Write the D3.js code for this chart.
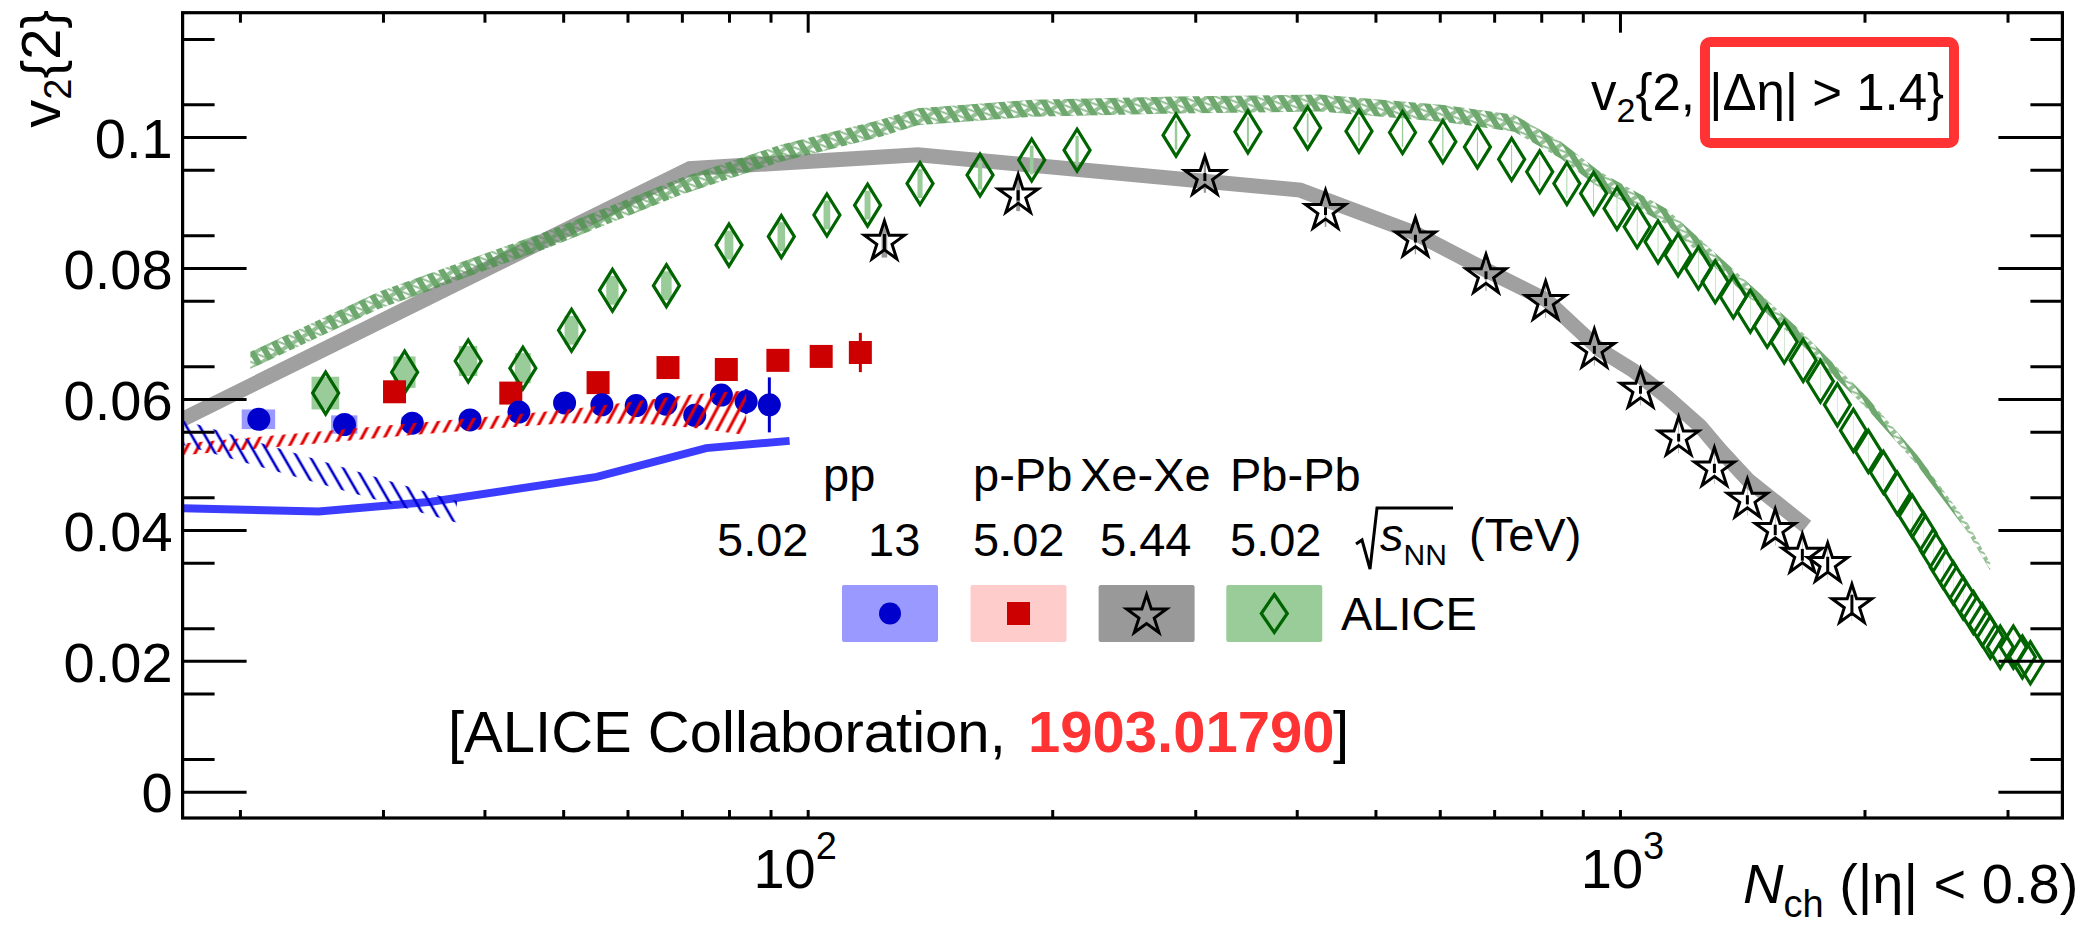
<!DOCTYPE html>
<html>
<head>
<meta charset="utf-8">
<script src="https://cdn.jsdelivr.net/npm/d3@7"></script>
<style>
  html, body { margin: 0; padding: 0; background: #ffffff; }
  svg { display: block; font-family: "Liberation Sans", Arial, Helvetica, sans-serif; }
</style>
</head>
<body>
<svg id="chart" width="2084" height="925"></svg>
<script>
// ---------------------------------------------------------------
// ALICE v2{2, |Δη| > 1.4} versus Nch (|η| < 0.8) for pp, p-Pb,
// Xe-Xe and Pb-Pb collisions, with model curves.
// ---------------------------------------------------------------

// pp, 13 TeV
const ppNch  = [21.1, 26.9, 32.6, 38.4, 44.1, 50.2, 55.8, 61.5, 66.9, 72.6, 78.3, 84.0, 89.7];
const ppV2   = [0.0569, 0.0561, 0.0563, 0.0568, 0.0580, 0.0594, 0.0591, 0.0590, 0.0592, 0.0575, 0.0606, 0.0596, 0.0591];
const ppStat = [0.0006, 0.0006, 0.0006, 0.0007, 0.0007, 0.0008, 0.0009, 0.0010, 0.0011, 0.0012, 0.0014, 0.0019, 0.0042];
const ppSyst = [0.0015, 0.0014, 0.0010, 0.0010, 0.0010, 0.0010, 0.0010, 0.0010, 0.0010, 0.0010, 0.0010, 0.0010, 0.0010];

// p-Pb, 5.02 TeV
const pPbNch  = [31.0, 43.1, 55.2, 67.3, 79.4, 91.9, 103.9, 116.1];
const pPbV2   = [0.0611, 0.0609, 0.0625, 0.0648, 0.0645, 0.0659, 0.0665, 0.0671];
const pPbStat = [0.0005, 0.0005, 0.0006, 0.0007, 0.0008, 0.0010, 0.0013, 0.0030];
const pPbSyst = [0.0010, 0.0010, 0.0010, 0.0010, 0.0010, 0.0010, 0.0010, 0.0010];

// Xe-Xe, 5.44 TeV
const xeNch  = [124.3, 181.6, 308.3, 434, 560, 684, 810, 930, 1060, 1181, 1307, 1435, 1553, 1677, 1802, 1930];
const xeV2   = [0.0840, 0.0911, 0.0939, 0.0887, 0.0845, 0.0789, 0.0748, 0.0675, 0.0614, 0.0541, 0.0494, 0.0446, 0.0400, 0.0362, 0.0348, 0.0285];
const xeStat = [0.0012, 0.0008, 0.0006, 0.0006, 0.0006, 0.0006, 0.0006, 0.0006, 0.0006, 0.0006, 0.0007, 0.0007, 0.0008, 0.0009, 0.0011, 0.0016];
const xeSyst = [0.0024, 0.0024, 0.0024, 0.0024, 0.0024, 0.0024, 0.0024, 0.0024, 0.0024, 0.0024, 0.0024, 0.0024, 0.0024, 0.0024, 0.0024, 0.0024];

// Pb-Pb, 5.02 TeV
const pbNch = [25.5, 31.9, 38.2, 44.6, 51.2, 57.5, 67.0, 80.0, 92.8, 105.6, 118.5, 137.5, 163, 188.7, 214.6,
               284.1, 348.3, 412.6, 477.2, 539.9, 605.3, 667.6, 735.6, 796.5, 860.3, 928, 991.6, 1050, 1114,
               1179, 1249, 1310, 1379, 1447, 1518, 1593, 1681, 1765, 1852, 1938, 2022, 2110, 2195, 2290,
               2362, 2430, 2500, 2572, 2646, 2723, 2793, 2857, 2939, 3050, 3129, 3201];
const pbV2  = [0.0609, 0.0641, 0.0658, 0.0647, 0.0705, 0.0766, 0.0773, 0.0835, 0.0848, 0.0881, 0.0896, 0.0929, 0.0942, 0.0965, 0.0980,
               0.1003, 0.1008, 0.1014, 0.1009, 0.1007, 0.0993, 0.0985, 0.0966, 0.0947, 0.0929, 0.0914, 0.0891, 0.0863, 0.0840,
               0.0820, 0.0800, 0.0779, 0.0756, 0.0734, 0.0711, 0.0687, 0.0659, 0.0627, 0.0591, 0.0552, 0.0520, 0.0488, 0.0456, 0.0421,
               0.0395, 0.0369, 0.0343, 0.0319, 0.0296, 0.0274, 0.0255, 0.0236, 0.0221, 0.0221, 0.0206, 0.0197];
const pbSyst = [0.0025, 0.0024, 0.0023, 0.0023, 0.0022, 0.0022, 0.0022, 0.0022, 0.0022, 0.0022, 0.0022, 0.0022, 0.0022, 0.0022, 0.0022,
                0.0022, 0.0022, 0.0022, 0.0022, 0.0022, 0.0022, 0.0022, 0.0022, 0.0022, 0.0022, 0.0022, 0.0022, 0.0022, 0.0022,
                0.0022, 0.0022, 0.0022, 0.0022, 0.0022, 0.0022, 0.0022, 0.0022, 0.0022, 0.0022, 0.0022, 0.0022, 0.0022, 0.0022, 0.0022,
                0.0022, 0.0022, 0.0022, 0.0022, 0.0022, 0.0022, 0.0022, 0.0022, 0.0022, 0.0022, 0.0022, 0.0022];

// Model: Pb-Pb hatched band
const modelPbNch  = [20.6, 29.7, 47.7, 69.6, 92.4, 122.7, 136.6, 189, 284, 427, 607, 741, 846, 945, 1142, 1379, 1667, 2014, 2321, 2674, 2857];
const modelPbLow  = [0.0646, 0.0738, 0.0830, 0.0911, 0.0962, 0.1000, 0.1018, 0.1031, 0.1036, 0.1039, 0.1023, 0.1008, 0.0967, 0.0921, 0.0866, 0.0776, 0.0685, 0.0585, 0.0499, 0.0398, 0.0338];
const modelPbHigh = [0.0672, 0.0764, 0.0856, 0.0937, 0.0988, 0.1026, 0.1044, 0.1057, 0.1062, 0.1065, 0.1049, 0.1034, 0.0993, 0.0947, 0.0890, 0.0798, 0.0705, 0.0603, 0.0515, 0.0412, 0.0350];

// Model: Xe-Xe curve
const modelXeNch = [17, 71.6, 136.7, 404, 560, 684, 812, 945, 1037, 1143, 1256, 1329, 1438, 1697];
const modelXeV2  = [0.0569, 0.0952, 0.0973, 0.0919, 0.0853, 0.0797, 0.0751, 0.0675, 0.0644, 0.0603, 0.0558, 0.0522, 0.0476, 0.0405];

// Model: p-Pb hatched band
const modelPPbNch  = [17, 32.6, 50, 63, 72, 84];
const modelPPbLow  = [0.0514, 0.0545, 0.0563, 0.0562, 0.0556, 0.0545];
const modelPPbHigh = [0.0532, 0.0563, 0.0583, 0.0598, 0.0607, 0.0613];

// Model: pp hatched band
const modelPpBandNch  = [17, 37];
const modelPpBandLow  = [0.0530, 0.0411];
const modelPpBandHigh = [0.0568, 0.0444];

// Model: pp curve
const modelPpNch = [17, 25, 34.4, 55, 75, 95];
const modelPpV2  = [0.0433, 0.0428, 0.0443, 0.0481, 0.0525, 0.0536];

// Axis ticks
const yMajorTicks = [0, 0.02, 0.04, 0.06, 0.08, 0.1];
const yTickLabels = ["0", "0.02", "0.04", "0.06", "0.08", "0.1"];
const xMajorTicks = [100, 1000];
const xTickLabels = [["10", "2"], ["10", "3"]];
const xMinorTicks = [20, 30, 40, 50, 60, 70, 80, 90, 200, 300, 400, 500, 600, 700, 800, 900, 2000, 3000];

// Legend
const systems  = ["pp", "p-Pb", "Xe-Xe", "Pb-Pb"];
const energies = ["5.02", "13", "5.02", "5.44", "5.02"];

// ---------------------------------------------------------------
const svg = d3.select("#chart");
const frame = { left: 182.6, right: 2062.4, top: 12.7, bottom: 818 };

const x = d3.scaleLog().domain([17, 3505]).range([frame.left, frame.right]);
const y = d3.scaleLinear().domain([-0.0040, 0.119]).range([frame.bottom, frame.top]);

const zip2 = (a, b) => a.map((d, i) => [d, b[i]]);
const zip3 = (a, b, c) => a.map((d, i) => [d, b[i], c[i]]);

const defs = svg.append("defs");
defs.append("clipPath").attr("id", "plotClip")
  .append("rect")
  .attr("x", frame.left).attr("y", frame.top)
  .attr("width", frame.right - frame.left).attr("height", frame.bottom - frame.top);

function hatch(id, color, spacing, width, angle) {
  const p = defs.append("pattern").attr("id", id)
    .attr("patternUnits", "userSpaceOnUse")
    .attr("width", spacing).attr("height", spacing)
    .attr("patternTransform", `rotate(${angle})`);
  p.append("line")
    .attr("x1", spacing / 2).attr("y1", 0)
    .attr("x2", spacing / 2).attr("y2", spacing)
    .attr("stroke", color).attr("stroke-width", width);
}
hatch("hatchRed", "#e30000", 10, 3, 28);
hatch("hatchBlue", "#0000cc", 11.5, 2.6, -30);

// mottled green pattern for the Pb-Pb model band
const gp = defs.append("pattern").attr("id", "hatchGreen")
  .attr("patternUnits", "userSpaceOnUse")
  .attr("width", 12).attr("height", 12)
  .attr("patternTransform", "rotate(-32)");
gp.append("rect").attr("x", 0).attr("y", 0).attr("width", 6).attr("height", 12)
  .attr("fill", "rgb(74,146,74)").attr("fill-opacity", 0.8);
gp.append("rect").attr("x", 6).attr("y", 0).attr("width", 6).attr("height", 4)
  .attr("fill", "rgb(74,146,74)").attr("fill-opacity", 0.58);
gp.append("line").attr("x1", 6).attr("y1", 4).attr("x2", 12).attr("y2", 12)
  .attr("stroke", "rgb(74,146,74)").attr("stroke-opacity", 0.62).attr("stroke-width", 2);

const plot = svg.append("g").attr("clip-path", "url(#plotClip)");

const lineGen = d3.line().x(d => x(d[0])).y(d => y(d[1]));
const areaGen = d3.area().x(d => x(d[0])).y0(d => y(d[1])).y1(d => y(d[2]));

// Xe-Xe model curve
plot.append("path")
  .datum(zip2(modelXeNch, modelXeV2))
  .attr("d", lineGen)
  .attr("fill", "none").attr("stroke", "rgb(160,160,160)")
  .attr("stroke-width", 15).attr("stroke-linejoin", "miter");

// Pb-Pb model band
plot.append("path")
  .datum(zip3(modelPbNch, modelPbLow, modelPbHigh))
  .attr("d", areaGen)
  .attr("fill", "url(#hatchGreen)");

// pp model curve
plot.append("path")
  .datum(zip2(modelPpNch, modelPpV2))
  .attr("d", lineGen)
  .attr("fill", "none").attr("stroke", "rgb(60,60,255)")
  .attr("stroke-width", 8);

// systematic boxes (±1 in Nch)
function systBoxes(nch, v2, syst, color) {
  plot.append("g").selectAll("rect")
    .data(nch.map((n, i) => ({ n, v: v2[i], s: syst[i] })))
    .join("rect")
    .attr("x", d => x(d.n - 1))
    .attr("width", d => x(d.n + 1) - x(d.n - 1))
    .attr("y", d => y(d.v + d.s))
    .attr("height", d => y(d.v - d.s) - y(d.v + d.s))
    .attr("fill", color);
}
function statBars(nch, v2, stat, color) {
  plot.append("g").selectAll("line")
    .data(nch.map((n, i) => ({ n, v: v2[i], s: stat[i] })))
    .join("line")
    .attr("x1", d => x(d.n)).attr("x2", d => x(d.n))
    .attr("y1", d => y(d.v + d.s)).attr("y2", d => y(d.v - d.s))
    .attr("stroke", color).attr("stroke-width", 3);
}

systBoxes(pbNch, pbV2, pbSyst, "rgb(153,204,153)");
systBoxes(xeNch, xeV2, xeSyst, "rgb(153,153,153)");
systBoxes(pPbNch, pPbV2, pPbSyst, "rgb(255,204,204)");
systBoxes(ppNch, ppV2, ppSyst, "rgb(153,153,255)");

statBars(xeNch, xeV2, xeStat, "#000000");
statBars(pPbNch, pPbV2, pPbStat, "#cc0000");
statBars(ppNch, ppV2, ppStat, "#0000cc");

// marker shapes
const diamondPath = "M0,-21L13,0L0,21L-13,0Z";
const starPath = d3.symbol(d3.symbolStar, 495)();
const squarePath = "M-11.5,-11.5H11.5V11.5H-11.5Z";

// Pb-Pb diamonds (open)
plot.append("g").selectAll("path")
  .data(zip2(pbNch, pbV2))
  .join("path")
  .attr("transform", d => `translate(${x(d[0])},${y(d[1])})`)
  .attr("d", diamondPath)
  .attr("fill", "none").attr("stroke", "#006400").attr("stroke-width", 3.2);

// Xe-Xe stars (open)
plot.append("g").selectAll("path")
  .data(zip2(xeNch, xeV2))
  .join("path")
  .attr("transform", d => `translate(${x(d[0])},${y(d[1])})`)
  .attr("d", starPath)
  .attr("fill", "none").attr("stroke", "#000000").attr("stroke-width", 3);

// p-Pb squares
plot.append("g").selectAll("path")
  .data(zip2(pPbNch, pPbV2))
  .join("path")
  .attr("transform", d => `translate(${x(d[0])},${y(d[1])})`)
  .attr("d", squarePath)
  .attr("fill", "#cc0000");

// pp circles
plot.append("g").selectAll("circle")
  .data(zip2(ppNch, ppV2))
  .join("circle")
  .attr("cx", d => x(d[0])).attr("cy", d => y(d[1]))
  .attr("r", 11.5)
  .attr("fill", "#0000cc");

// p-Pb model band (hatched)
plot.append("path")
  .datum(zip3(modelPPbNch, modelPPbLow, modelPPbHigh))
  .attr("d", areaGen)
  .attr("fill", "url(#hatchRed)");

// pp model band (hatched)
plot.append("path")
  .datum(zip3(modelPpBandNch, modelPpBandLow, modelPpBandHigh))
  .attr("d", areaGen)
  .attr("fill", "url(#hatchBlue)");

// ---------------------------------------------------------------
// Axes
const tickStroke = 3;
function styleAxis(g) {
  g.select(".domain").remove();
  g.selectAll(".tick line").attr("stroke", "#000").attr("stroke-width", tickStroke);
  g.attr("font-family", null).attr("font-size", null);
}
const yMinorTicks = d3.range(0.005, 0.1151, 0.01);
// horizontal nudge of the exponent labels relative to their tick
const xTickLabelShift = [-13, 2];

// left
svg.append("g").attr("transform", `translate(${frame.left},0)`)
  .call(d3.axisLeft(y).tickValues(yMajorTicks).tickSizeInner(-64).tickSizeOuter(0)
    .tickPadding(10).tickFormat((d, i) => yTickLabels[i]))
  .call(styleAxis)
  .call(g => g.selectAll(".tick text").attr("font-size", 56).attr("fill", "#000").attr("dy", "0.36em"));
svg.append("g").attr("transform", `translate(${frame.left},0)`)
  .call(d3.axisLeft(y).tickValues(yMinorTicks).tickSizeInner(-32).tickSizeOuter(0).tickFormat(""))
  .call(styleAxis);

// right
svg.append("g").attr("transform", `translate(${frame.right},0)`)
  .call(d3.axisRight(y).tickValues(yMajorTicks).tickSizeInner(-64).tickSizeOuter(0).tickFormat(""))
  .call(styleAxis);
svg.append("g").attr("transform", `translate(${frame.right},0)`)
  .call(d3.axisRight(y).tickValues(yMinorTicks).tickSizeInner(-32).tickSizeOuter(0).tickFormat(""))
  .call(styleAxis);

// bottom
svg.append("g").attr("transform", `translate(0,${frame.bottom})`)
  .call(d3.axisBottom(x).tickValues(xMajorTicks).tickSizeInner(-8).tickSizeOuter(0).tickPadding(30).tickFormat(() => ""))
  .call(styleAxis)
  .call(g => g.selectAll(".tick text").each(function (d, i) {
    const t = d3.select(this).attr("font-size", 56).attr("fill", "#000")
      .attr("text-anchor", "middle").attr("x", xTickLabelShift[i]);
    t.append("tspan").text(xTickLabels[i][0]);
    t.append("tspan").attr("font-size", 38).attr("dy", "-0.75em").text(xTickLabels[i][1]);
  }));
svg.append("g").attr("transform", `translate(0,${frame.bottom})`)
  .call(d3.axisBottom(x).tickValues(xMinorTicks).tickSizeInner(-8).tickSizeOuter(0).tickFormat(""))
  .call(styleAxis);

// top
svg.append("g").attr("transform", `translate(0,${frame.top})`)
  .call(d3.axisTop(x).tickValues(xMajorTicks).tickSizeInner(-20).tickSizeOuter(0).tickFormat(""))
  .call(styleAxis);
svg.append("g").attr("transform", `translate(0,${frame.top})`)
  .call(d3.axisTop(x).tickValues(xMinorTicks).tickSizeInner(-10).tickSizeOuter(0).tickFormat(""))
  .call(styleAxis);

// frame
svg.append("rect")
  .attr("x", frame.left).attr("y", frame.top)
  .attr("width", frame.right - frame.left).attr("height", frame.bottom - frame.top)
  .attr("fill", "none").attr("stroke", "#000").attr("stroke-width", 3.2);

// axis titles
const yTitle = svg.append("text")
  .attr("transform", "translate(60,10) rotate(-90)")
  .attr("text-anchor", "end").attr("font-size", 56).attr("fill", "#000");
yTitle.append("tspan").text("v");
yTitle.append("tspan").attr("font-size", 38).attr("dy", "0.3em").text("2");
yTitle.append("tspan").attr("dy", "-0.2em").text("{2}");

const xTitle = svg.append("text")
  .attr("x", 1743).attr("y", 903)
  .attr("font-size", 56).attr("fill", "#000");
xTitle.append("tspan").attr("font-style", "italic").text("N");
xTitle.append("tspan").attr("font-size", 38).attr("dy", 14).text("ch");
xTitle.append("tspan").attr("dy", -14).text(" (|\u03B7| < 0.8)");

// annotation: correlation method
const ann = svg.append("text").attr("x", 1591).attr("y", 110)
  .attr("font-size", 51).attr("fill", "#000");
ann.append("tspan").text("v");
ann.append("tspan").attr("font-size", 34).attr("dy", 12).text("2");
ann.append("tspan").attr("dy", -12).text("{2, |\u0394\u03B7| > 1.4}");
svg.append("rect")
  .attr("x", 1705).attr("y", 42).attr("width", 249).attr("height", 101)
  .attr("rx", 5)
  .attr("fill", "none").attr("stroke", "#ff3333").attr("stroke-width", 10);

// legend
const legend = svg.append("g").attr("font-size", 47).attr("fill", "#000");
const sysX = [823, 973, 1080, 1230];
systems.forEach((s, i) => legend.append("text").attr("x", sysX[i]).attr("y", 491).text(s));
const enX = [717, 868, 973, 1100, 1230];
energies.forEach((e, i) => legend.append("text").attr("x", enX[i]).attr("y", 556).text(e));

legend.append("path")
  .attr("d", "M1356,544L1362,540L1370,569L1377,508H1453")
  .attr("fill", "none").attr("stroke", "#000").attr("stroke-width", 3);
const sq = legend.append("text").attr("x", 1380).attr("y", 551);
sq.append("tspan").attr("font-style", "italic").text("s");
sq.append("tspan").attr("font-size", 30).attr("dy", 14).text("NN");
legend.append("text").attr("x", 1469).attr("y", 551).text("(TeV)");

const boxFill = ["rgb(153,153,255)", "rgb(255,204,204)", "rgb(153,153,153)", "rgb(153,204,153)"];
const boxX = [842, 970.5, 1098.6, 1226.3];
boxFill.forEach((c, i) => legend.append("rect")
  .attr("x", boxX[i]).attr("y", 585).attr("width", 96).attr("height", 57).attr("rx", 2)
  .attr("fill", c));
const mY = 613.5;
legend.append("circle").attr("cx", boxX[0] + 48).attr("cy", mY).attr("r", 11).attr("fill", "#0000cc");
legend.append("path").attr("transform", `translate(${boxX[1] + 48},${mY})`).attr("d", squarePath).attr("fill", "#cc0000");
legend.append("path").attr("transform", `translate(${boxX[2] + 48},${mY + 2})`).attr("d", starPath)
  .attr("fill", "none").attr("stroke", "#000").attr("stroke-width", 3);
legend.append("path").attr("transform", `translate(${boxX[3] + 48},${mY})`).attr("d", "M0,-19L13,0L0,19L-13,0Z")
  .attr("fill", "none").attr("stroke", "#006400").attr("stroke-width", 3.2);
legend.append("text").attr("x", 1341).attr("y", 630).text("ALICE");

// reference
const ref = svg.append("text").attr("y", 752).attr("font-size", 58).attr("fill", "#000");
ref.append("tspan").attr("x", 448).text("[ALICE Collaboration,");
ref.append("tspan").attr("x", 1028).attr("font-weight", "bold").attr("fill", "#ff3333").text("1903.01790");
ref.append("tspan").attr("x", 1333).text("]");
</script>
</body>
</html>
